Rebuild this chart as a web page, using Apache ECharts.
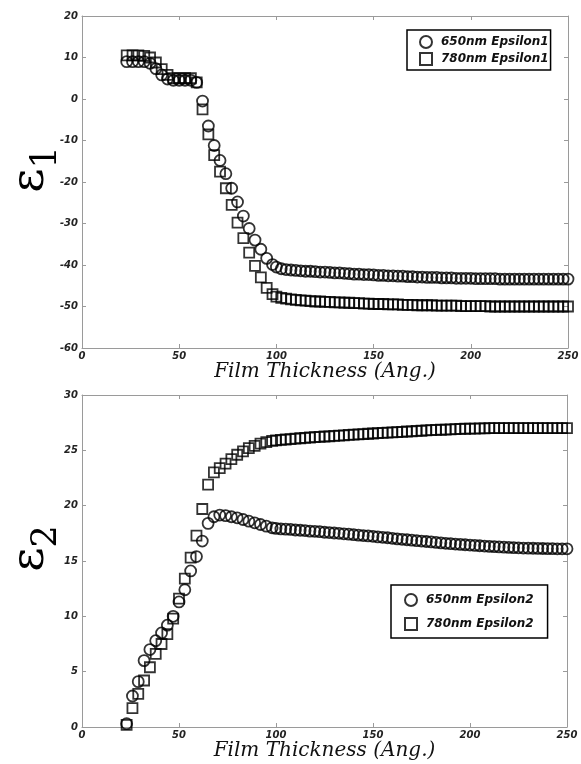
<!DOCTYPE html>
<html><head><meta charset="utf-8">
<script src="https://cdn.jsdelivr.net/npm/echarts@6/dist/echarts.min.js"></script>
<style>html,body{margin:0;padding:0;background:#fff}#c{width:581px;height:764px}</style>
</head><body><div id="c"></div>
<script>
// ---- data ----
const thickness = [23,26,29,32,35,38,41,44,47,50,53,56,59,62,65,68,71,74,77,80,83,86,89,92,95,98,
100,102.5,105,107.5,110,112.5,115,117.5,120,122.5,125,127.5,130,132.5,135,137.5,140,142.5,145,147.5,150,152.5,155,157.5,160,162.5,165,167.5,170,172.5,175,177.5,180,182.5,185,187.5,190,192.5,195,197.5,200,202.5,205,207.5,210,212.5,215,217.5,220,222.5,225,227.5,230,232.5,235,237.5,240,242.5,245,247.5,250];

const eps1_650 = [9.0,9.0,9.0,9.0,8.6,7.3,5.8,4.8,4.5,4.5,4.5,4.5,4.0,-0.5,-6.5,-11.2,-14.8,-18.0,-21.5,-24.8,-28.2,-31.2,-34.0,-36.2,-38.4,-39.9,
-40.5,-40.9,-41.1,-41.2,-41.3,-41.4,-41.5,-41.5,-41.6,-41.7,-41.7,-41.8,-41.9,-41.9,-42.0,-42.1,-42.2,-42.2,-42.3,-42.3,-42.4,-42.5,-42.5,-42.6,-42.6,-42.7,-42.7,-42.8,-42.8,-42.9,-42.9,-43.0,-43.0,-43.0,-43.1,-43.1,-43.1,-43.2,-43.2,-43.2,-43.2,-43.3,-43.3,-43.3,-43.3,-43.3,-43.4,-43.4,-43.4,-43.4,-43.4,-43.4,-43.4,-43.4,-43.4,-43.4,-43.4,-43.4,-43.4,-43.4,-43.4];

const eps1_780 = [10.5,10.5,10.5,10.4,10.0,8.8,7.2,5.8,5.0,5.0,5.0,5.0,4.0,-2.5,-8.5,-13.5,-17.5,-21.5,-25.5,-29.8,-33.5,-37.0,-40.2,-43.0,-45.5,-47.0,
-47.6,-47.9,-48.1,-48.3,-48.4,-48.5,-48.6,-48.7,-48.8,-48.8,-48.9,-48.9,-49.0,-49.0,-49.1,-49.1,-49.2,-49.2,-49.3,-49.3,-49.4,-49.4,-49.4,-49.5,-49.5,-49.5,-49.6,-49.6,-49.6,-49.7,-49.7,-49.7,-49.7,-49.8,-49.8,-49.8,-49.8,-49.8,-49.9,-49.9,-49.9,-49.9,-49.9,-49.9,-50.0,-50.0,-50.0,-50.0,-50.0,-50.0,-50.0,-50.0,-50.0,-50.0,-50.0,-50.0,-50.0,-50.0,-50.0,-50.0,-50.0];

const eps2_650 = [0.3,2.8,4.1,6.0,7.0,7.8,8.5,9.2,10.0,11.3,12.4,14.1,15.4,16.8,18.4,19.0,19.15,19.1,19.0,18.9,18.75,18.6,18.45,18.3,18.15,18.0,
17.95,17.9,17.88,17.85,17.8,17.78,17.75,17.7,17.68,17.65,17.6,17.57,17.53,17.5,17.46,17.42,17.38,17.34,17.3,17.27,17.23,17.18,17.14,17.1,17.05,17.0,16.96,16.92,16.88,16.84,16.8,16.76,16.72,16.68,16.64,16.6,16.57,16.53,16.5,16.47,16.44,16.41,16.38,16.35,16.32,16.3,16.27,16.25,16.23,16.21,16.19,16.17,16.16,16.15,16.14,16.13,16.12,16.11,16.1,16.1,16.1];

const eps2_780 = [0.2,1.7,3.0,4.2,5.4,6.6,7.5,8.4,9.8,11.6,13.4,15.3,17.3,19.7,21.9,23.0,23.4,23.8,24.2,24.6,24.9,25.2,25.4,25.6,25.75,25.85,
25.9,25.94,25.98,26.01,26.05,26.09,26.12,26.16,26.2,26.22,26.25,26.27,26.3,26.33,26.36,26.39,26.42,26.45,26.47,26.5,26.52,26.55,26.57,26.6,26.62,26.65,26.67,26.7,26.72,26.75,26.77,26.8,26.82,26.84,26.86,26.88,26.9,26.92,26.93,26.95,26.96,26.97,26.98,26.99,27.0,27.0,27.0,27.0,27.0,27.0,27.0,27.0,27.0,27.0,27.0,27.0,27.0,27.0,27.0,27.0,27.0];

const seriesNames = ['650nm Epsilon1','780nm Epsilon1','650nm Epsilon2','780nm Epsilon2'];
const xTicks = [0,50,100,150,200,250];
const y1Ticks = [-60,-50,-40,-30,-20,-10,0,10,20];
const y2Ticks = [0,5,10,15,20,25,30];
const xTitle = 'Film Thickness (Ang.)';

// ---- chart ----
const pairs = (xs, ys) => xs.map((x, i) => [x, ys[i]]);
const frameColor = '#9a9a9a';
const tickFont = {fontFamily:'DejaVu Sans', fontWeight:'bold', fontStyle:'italic', fontSize:10, color:'#222'};

function xAx(grid, pos, labels) {
  return {type:'value', gridIndex:grid, position:pos, min:xTicks[0], max:xTicks[xTicks.length-1], interval:xTicks[1]-xTicks[0],
    name: labels ? xTitle : '', nameLocation:'middle', nameGap:12,
    nameTextStyle:{fontFamily:'DejaVu Serif', fontStyle:'italic', fontSize:20, color:'#111'},
    axisLine:{show:true, onZero:false, lineStyle:{color:frameColor, width:1}},
    axisTick:{show:true, inside:true, length:4, lineStyle:{color:frameColor}},
    axisLabel:Object.assign({show:labels, margin:3}, tickFont),
    splitLine:{show:false}};
}
function yAx(grid, pos, ticks, labels, sub) {
  return {type:'value', gridIndex:grid, position:pos, min:ticks[0], max:ticks[ticks.length-1], interval:ticks[1]-ticks[0],
    name: labels ? '{e|ε}{s|' + sub + '}' : '', nameLocation:'middle', nameGap:18, nameRotate:90, nameMoveOverlap:false,
    nameTextStyle:{padding:[0,0,0,25], rich:{
      e:{fontFamily:'DejaVu Serif', fontSize:47, lineHeight:52, padding:[0,0,10,0], verticalAlign:'bottom', color:'#000'},
      s:{fontFamily:'DejaVu Serif', fontSize:35, lineHeight:28, verticalAlign:'bottom', color:'#000'}}},
    axisLine:{show:true, onZero:false, lineStyle:{color:frameColor, width:1}},
    axisTick:{show:true, inside:true, length:4, lineStyle:{color:frameColor}},
    axisLabel:Object.assign({show:labels, margin:4}, tickFont),
    splitLine:{show:false}};
}
const markStyle = {color:'rgba(255,255,255,0)', borderColor:'#000', borderWidth:1.8};
function sc(name, xi, yi, sym, size, ys) {
  return {type:'scatter', name, xAxisIndex:xi, yAxisIndex:yi, symbol:sym, symbolSize:size,
    data:pairs(thickness, ys), itemStyle:markStyle, emphasis:{disabled:true}};
}
const legendText = {fontFamily:'DejaVu Sans', fontWeight:'bold', fontStyle:'italic', fontSize:12, color:'#111', padding:[0,0,0,4]};
const legendIcon = {color:'#fff', borderColor:'#000', borderWidth:2};

const chart = echarts.init(document.getElementById('c'), null, {renderer:'canvas'});
chart.setOption({
  animation:false,
  backgroundColor:'#fff',
  grid:[{left:82, top:16, width:486, height:332, outerBoundsMode:'none', containLabel:false},
        {left:82, top:395, width:485, height:332, outerBoundsMode:'none', containLabel:false}],
  xAxis:[xAx(0,'bottom',true), xAx(0,'top',false), xAx(1,'bottom',true), xAx(1,'top',false)],
  yAxis:[yAx(0,'left',y1Ticks,true,'1'), yAx(0,'right',y1Ticks,false,''), yAx(1,'left',y2Ticks,true,'2'), yAx(1,'right',y2Ticks,false,'')],
  legend:[
    {left:407, top:30, orient:'vertical', selectedMode:false, itemWidth:12, itemHeight:12, itemGap:3,
     padding:[5,2,4,12], borderColor:'#000', borderWidth:1.5, borderRadius:0, backgroundColor:'#fff',
     textStyle:legendText, itemStyle:legendIcon,
     data:[{name:seriesNames[0], icon:'circle'}, {name:seriesNames[1], icon:'rect'}]},
    {left:391, top:585, orient:'vertical', selectedMode:false, itemWidth:12, itemHeight:12, itemGap:10,
     padding:[8,14,7,13], borderColor:'#000', borderWidth:1.5, borderRadius:0, backgroundColor:'#fff',
     textStyle:legendText, itemStyle:legendIcon,
     data:[{name:seriesNames[2], icon:'circle'}, {name:seriesNames[3], icon:'rect'}]}
  ],
  series:[
    sc(seriesNames[0], 0, 0, 'circle', 11, eps1_650),
    sc(seriesNames[1], 0, 0, 'rect', 10, eps1_780),
    sc(seriesNames[2], 2, 2, 'circle', 11, eps2_650),
    sc(seriesNames[3], 2, 2, 'rect', 10, eps2_780)
  ]
});
</script>
</body></html>
